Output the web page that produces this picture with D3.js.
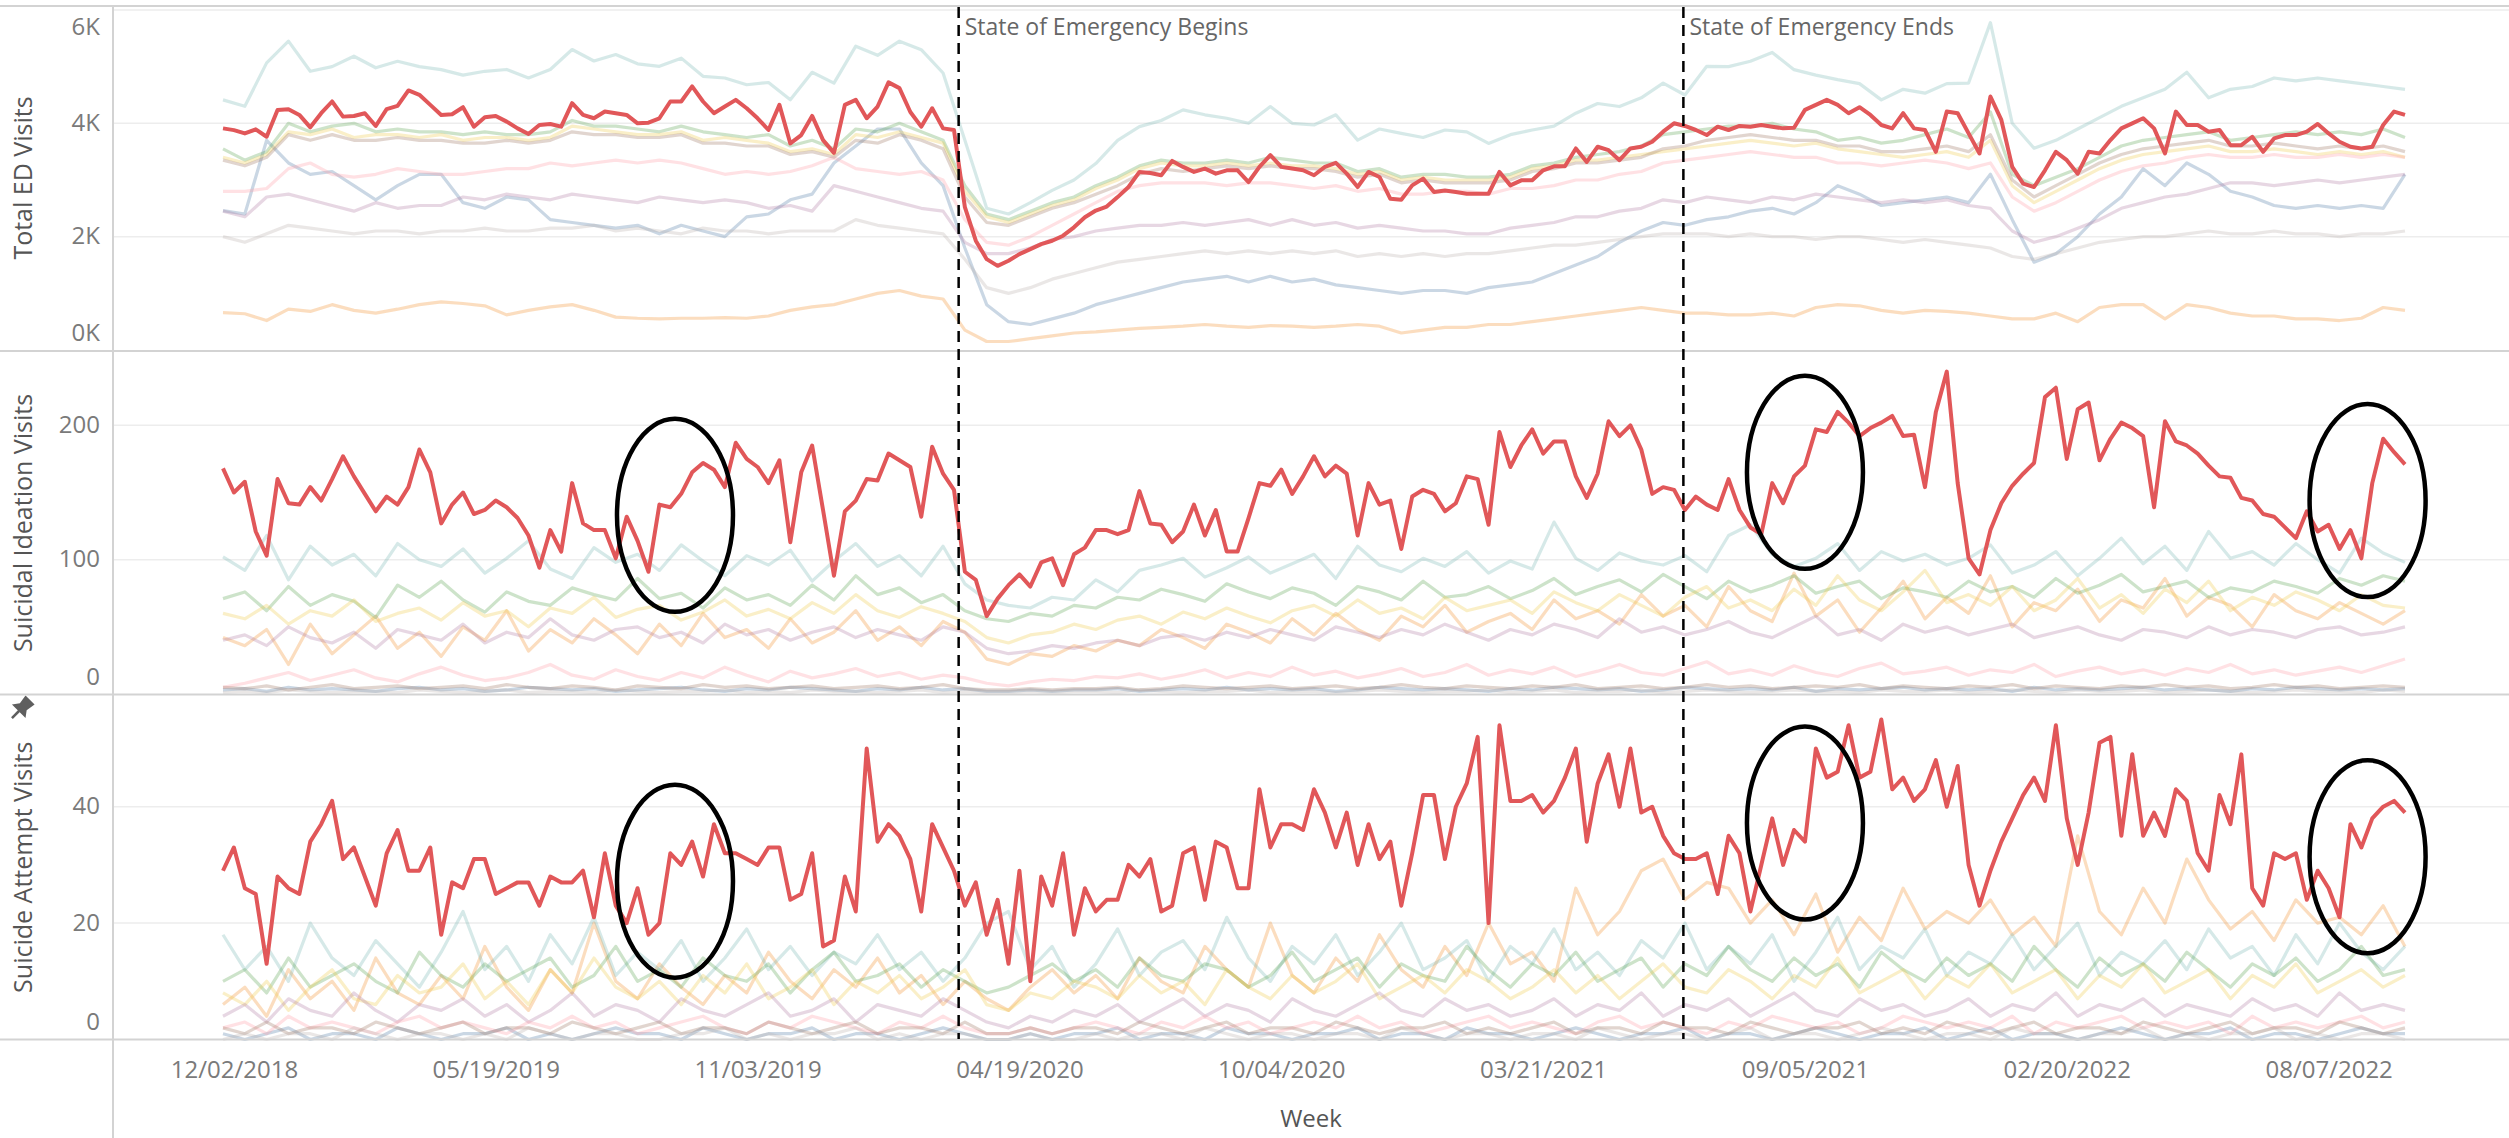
<!DOCTYPE html>
<html>
<head>
<meta charset="utf-8">
<script src="https://cdn.jsdelivr.net/npm/d3@7"></script>
<style>
  html, body { margin: 0; padding: 0; background: #fff; }
  svg { display: block; }
</style>
</head>
<body>
<svg id="chart" width="2509" height="1138"></svg>
<script>
// weekly data, first week and count
const firstWeek = "2018-11-25";
const weekCount = 201;

const tickLabels = ["12/02/2018", "05/19/2019", "11/03/2019", "04/19/2020", "10/04/2020",
  "03/21/2021", "09/05/2021", "02/20/2022", "08/07/2022"];

const emergencyDates = ["2020-03-11", "2021-06-19"];
const emergencyLabels = ["State of Emergency Begins", "State of Emergency Ends"];

// highlighted series (weekly)
const totalRed = [
  3911,3880,3822,3893,3763,4237,4249,4148,3929,4178, 4385,4118,4130,4178,3953,4249,4308,4580,4503,4325,
  4148,4160,4284,3941,4107,4130,4030,3911,3811,3970, 3988,3941,4355,4148,4089,4207,4178,4148,4000,4012,
  4089,4385,4385,4651,4385,4178,4296,4414,4266,4089, 3882,4325,3645,3793,4130,3704,3479,4325,4414,4089,
  4296,4722,4621,4200,3941,4266,3911,3882,2520,1928, 1603,1485,1574,1692,1781,1869,1928,2017,2165,2342,
  2461,2532,2698,2876,3142,3124,3083,3337,3231,3142, 3201,3112,3171,3171,2964,3231,3438,3231,3201,3171,
  3083,3231,3302,3112,2876,3142,3053,2668,2650,2905, 3024,2787,2816,2787,2757,2757,2757,3142,2905,2994,
  2994,3171,3242,3242,3556,3319,3586,3526,3349,3556, 3586,3674,3852,4000,3953,3882,3793,3941,3882,3953,
  3941,3970,3941,3911,3923,4237,4325,4414,4325,4178, 4284,4148,3970,3911,4178,3911,3882,3497,4207,4178,
  3822,3467,4473,4059,3231,2935,2876,3171,3497,3349, 3112,3497,3467,3704,3911,4000,4089,3911,3467,4207,
  3970,3970,3852,3882,3615,3615,3763,3497,3734,3793, 3793,3852,3988,3822,3674,3586,3556,3586,3970,4207,
  4148];
const ideationRed = [
  168,150,158,121,103,160,142,141,154,144, 160,177,162,149,136,147,141,154,182,165,
  127,141,150,134,137,144,139,131,118,94, 122,106,157,127,122,122,101,132,114,91,
  141,139,149,165,172,167,154,187,175,169, 157,174,113,165,185,137,88,136,144,160,
  159,179,174,169,132,184,164,152,91,85, 58,71,81,89,80,98,101,81,104,109,
  122,122,119,122,151,127,126,113,121,141, 118,137,106,106,131,157,155,167,149,162,
  177,162,170,164,118,157,141,144,108,147, 152,149,136,142,162,160,126,195,169,185,
  197,179,188,188,162,146,164,203,192,200, 182,149,154,152,137,147,141,137,160,137,
  124,119,157,142,162,170,197,195,210,202, 192,198,202,207,192,193,154,210,240,157,
  101,89,122,142,155,164,172,221,228,175, 212,217,174,190,202,198,192,139,203,188,
  185,179,170,162,161,146,144,134,132,124, 116,136,121,126,108,122,101,157,190,180,
  171];
const attemptRed = [
  29,33,26,25,13,28,26,25,34,37, 41,31,33,28,23,32,36,29,29,33,
  18,27,26,31,31,25,26,27,27,23, 28,27,27,29,21,32,23,20,26,18,
  20,32,30,34,28,37,32,32,31,30, 33,33,24,25,32,16,17,28,22,50,
  34,37,35,31,22,37,33,29,23,27, 18,24,13,29,10,28,23,32,18,26,
  22,24,24,30,28,31,22,23,32,33, 24,34,33,26,26,43,33,37,37,36,
  43,39,33,39,30,37,31,34,23,32, 42,42,31,40,44,52,20,54,41,41,
  42,39,41,45,50,34,44,49,40,50, 39,40,35,32,31,31,32,25,35,32,
  22,30,38,30,36,34,50,45,46,54, 45,46,55,43,45,41,43,48,40,47,
  30,23,29,34,38,42,45,41,54,38, 30,39,51,52,35,49,35,39,35,43,
  41,32,29,42,37,49,26,23,32,31, 32,24,29,26,21,37,33,38,40,41,
  39];

// other series, read every second week
const totalTeal = [
  4414,4300,5066,5450,4918,5000,5184,4980,5095,5000, 4947,4850,4918,4950,4800,4950,5302,5100,5214,5050,
  5006,5150,4829,4800,4680,4720,4414,4900,4710,5361, 5200,5450,5300,4888,3700,2500,2400,2600,2816,3000,
  3290,3700,3941,4050,4237,4150,4089,4000,4296,4000, 3970,4150,3704,3900,3822,3750,3882,3850,3645,3800,
  3882,3950,4178,4350,4296,4450,4710,4500,5006,5000, 5095,5250,4947,4850,4770,4700,4414,4600,4532,4700,
  4710,5776,4000,3560,3700,3900,4100,4300,4450,4600, 4900,4450,4600,4650,4800,4750,4800,4750,4700,4650,
  4600];
const totalGreen = [
  3550,3350,3500,4000,3850,3950,4000,3850,3900,3850, 3850,3800,3850,3800,3800,3850,4050,3950,3950,3900,
  3850,3950,3850,3800,3750,3800,3600,3700,3550,3900, 3850,4000,3850,3700,2900,2400,2300,2450,2600,2700,
  2900,3050,3250,3350,3300,3300,3350,3300,3400,3350, 3300,3300,3150,3200,3050,3100,3100,3050,3050,3100,
  3250,3300,3400,3450,3500,3600,3800,3850,3900,3950, 3950,4000,3900,3850,3700,3750,3650,3700,3800,3900,
  3750,4200,3100,2900,3050,3200,3400,3600,3700,3750, 3800,3850,3700,3750,3800,3850,3800,3850,3800,3900,
  3750];
const totalYellow = [
  3400,3300,3450,3850,3800,3900,3750,3800,3800,3750, 3800,3700,3750,3750,3700,3750,3950,3900,3850,3800,
  3800,3850,3700,3750,3700,3650,3500,3550,3450,3800, 3750,3850,3750,3650,2800,2350,2250,2400,2550,2650,
  2850,3000,3200,3300,3250,3250,3300,3250,3300,3250, 3250,3200,3100,3150,3000,3050,3000,3000,3000,3050,
  3200,3250,3350,3350,3400,3450,3500,3550,3600,3650, 3700,3650,3600,3650,3550,3500,3450,3400,3450,3500,
  3400,3700,2900,2600,2800,3000,3200,3350,3450,3500, 3550,3600,3500,3500,3550,3500,3450,3500,3450,3500,
  3400];
const totalBrown = [
  3350,3250,3400,3800,3700,3800,3700,3700,3750,3700, 3700,3650,3650,3700,3650,3700,3850,3800,3800,3750,
  3750,3800,3650,3650,3600,3600,3450,3500,3400,3700, 3650,3800,3700,3550,2700,2250,2200,2350,2500,2600,
  2750,2900,3100,3200,3150,3200,3250,3200,3250,3200, 3200,3150,3050,3100,2950,3000,2950,2950,2950,3000,
  3150,3200,3300,3300,3350,3400,3550,3600,3700,3750, 3800,3750,3700,3700,3600,3600,3500,3500,3550,3600,
  3500,3800,3000,2700,2900,3100,3300,3450,3550,3600, 3650,3700,3600,3600,3650,3600,3550,3600,3550,3600,
  3500];
const totalPink = [
  2800,2800,2850,3200,3300,3100,3050,3100,3200,3150, 3100,3100,3150,3200,3200,3300,3250,3300,3350,3300,
  3350,3300,3200,3100,3150,3100,3150,3250,3400,3200, 3150,3100,3150,3000,2300,1900,1850,2000,2200,2400,
  2600,2800,2900,2950,2950,2950,2900,2950,2950,2900, 2850,2900,2800,2850,2750,2750,2800,2800,2750,2850,
  2850,2900,3000,3000,3100,3150,3300,3350,3400,3450, 3500,3450,3400,3400,3300,3300,3250,3300,3350,3300,
  3200,3300,2700,2450,2600,2800,3000,3150,3250,3300, 3400,3450,3400,3400,3450,3400,3400,3450,3400,3450,
  3400];
const totalBlue = [
  2460,2400,3700,3300,3100,3150,2900,2650,2900,3100, 3100,2600,2500,2700,2650,2300,2250,2200,2150,2200,
  2050,2200,2100,2000,2350,2400,2650,2750,3300,3600, 3900,3900,3300,2900,1800,800,500,450,550,650,
  800,900,1000,1100,1200,1250,1300,1200,1300,1200, 1250,1150,1100,1050,1000,1050,1050,1000,1100,1150,
  1200,1350,1500,1650,1900,2100,2250,2200,2300,2350, 2450,2500,2400,2600,2900,2750,2550,2600,2650,2700,
  2600,3100,2300,1550,1700,2000,2400,2700,3200,2900, 3300,3100,2800,2700,2550,2500,2550,2500,2550,2500,
  3100];
const totalPurple = [
  2450,2350,2700,2750,2650,2550,2450,2600,2500,2550, 2550,2700,2650,2750,2700,2650,2750,2700,2650,2600,
  2700,2650,2600,2650,2600,2500,2550,2450,2900,2800, 2700,2600,2500,2450,1900,1700,1700,1800,1950,2000,
  2100,2150,2200,2200,2250,2200,2250,2300,2200,2300, 2200,2250,2150,2200,2150,2100,2100,2050,2050,2150,
  2200,2250,2350,2350,2450,2500,2650,2600,2700,2650, 2600,2700,2650,2750,2700,2650,2600,2650,2600,2650,
  2550,2500,2100,1900,2000,2150,2300,2500,2600,2700, 2750,2850,2950,2950,2900,2950,3000,2950,3000,3050,
  3100];
const totalGray = [
  2000,1900,2050,2200,2150,2100,2050,2100,2100,2050, 2100,2100,2150,2100,2100,2150,2150,2200,2100,2150,
  2100,2050,2150,2100,2100,2050,2100,2100,2100,2300, 2200,2150,2100,2050,1600,1100,1000,1100,1250,1350,
  1450,1550,1600,1650,1700,1750,1700,1750,1700,1750, 1700,1750,1650,1700,1650,1700,1650,1700,1700,1750,
  1800,1850,1850,1900,1950,2000,2050,2050,2050,2000, 2050,2000,2000,1950,2000,2000,1950,1900,1950,1900,
  1850,1800,1650,1600,1700,1800,1900,1950,2000,2000, 2050,2100,2050,2050,2100,2050,2050,2000,2050,2050,
  2100];
const totalOrange = [
  660,640,520,720,680,800,700,650,720,800, 850,820,780,620,700,760,800,700,580,560,
  550,560,560,570,560,600,700,760,800,900, 1000,1050,950,900,350,150,150,200,250,300,
  320,350,380,400,420,450,420,400,430,420, 400,420,450,420,300,350,400,400,450,450,
  500,550,600,650,700,750,700,650,650,620, 620,650,600,750,800,780,700,650,700,680,
  650,600,550,550,650,500,750,800,800,550, 800,750,650,600,600,550,550,520,560,750,
  700];

const ideationTeal = [
  102,92,118,85,110,96,104,88,112,100, 95,108,90,101,114,93,86,109,98,104,
  92,111,99,88,103,96,107,84,99,112, 95,103,88,110,82,70,66,64,72,70,
  85,76,92,96,101,87,94,102,90,97, 104,86,110,96,91,101,95,106,90,99,
  93,128,101,92,105,99,96,103,91,118, 126,104,95,101,112,92,106,99,104,96,
  101,111,90,96,106,88,101,116,97,110, 92,121,101,106,96,112,100,90,116,105,
  98];
const ideationGreen = [
  71,76,62,80,66,74,69,57,81,72, 84,70,61,76,69,66,79,74,70,86,
  71,75,64,79,70,74,66,81,70,88, 74,79,68,74,62,56,54,60,58,66,
  64,72,70,78,74,69,82,76,71,79, 75,66,80,76,70,84,72,74,80,71,
  77,86,74,80,85,76,89,80,71,84, 76,81,88,75,80,84,71,79,76,72,
  84,76,80,72,86,75,81,89,76,80, 84,72,79,76,84,80,75,86,81,88,
  84];
const ideationYellow = [
  60,56,66,52,62,58,70,54,60,64, 55,68,58,62,50,64,60,72,57,63,
  66,55,61,70,58,63,56,68,60,74, 62,57,65,60,54,42,38,44,46,52,
  48,55,58,52,61,56,64,58,53,62, 66,58,70,60,64,56,72,62,66,70,
  60,76,68,62,74,66,58,72,80,64, 70,62,78,66,88,70,62,76,92,68,
  74,66,80,62,70,86,64,74,60,78, 68,84,62,72,66,76,70,62,74,66,
  64];
const ideationOrange = [
  42,36,48,22,52,30,44,58,34,46, 28,50,40,62,32,48,38,56,44,30,
  52,36,60,42,48,34,56,38,46,62, 40,50,36,54,46,26,22,30,28,36,
  32,40,36,48,42,34,52,46,38,56, 44,60,48,40,58,50,66,46,54,60,
  48,70,56,62,52,74,58,66,50,80, 62,54,90,58,70,46,64,84,56,72,
  60,88,50,68,62,78,54,70,64,86, 58,72,66,50,74,62,56,68,60,52,
  62];
const ideationPurple = [
  40,44,36,50,42,38,46,34,48,44, 40,52,38,46,42,56,44,40,48,50,
  42,46,38,52,44,48,40,46,50,42, 48,44,40,50,46,34,30,32,36,34,
  38,40,36,42,44,40,46,42,48,44, 40,50,46,42,48,44,52,46,40,48,
  44,52,48,42,56,46,50,44,48,54, 46,42,50,58,44,48,40,52,46,50,
  44,48,52,42,46,50,44,40,48,46, 42,50,44,48,46,42,48,50,44,46,
  50];
const ideationPink = [
  5,8,12,16,10,14,18,12,9,15, 20,14,10,12,16,22,14,11,18,13,
  10,16,12,20,14,9,17,12,15,19, 13,16,11,14,12,8,6,9,11,10,
  13,12,15,11,14,18,12,16,13,20, 14,17,12,15,19,13,16,22,14,18,
  15,20,13,17,22,16,14,19,24,15, 18,14,21,16,13,19,23,15,17,20,
  14,18,16,22,13,17,20,15,18,14, 19,16,22,15,18,14,17,20,16,21,
  26];
const ideationBlue = [
  3,4,2,5,3,4,3,2,4,5, 3,4,2,3,5,4,3,4,2,3,
  4,5,3,2,4,3,5,4,3,2, 4,3,5,3,4,2,2,3,2,3,
  3,4,2,3,4,3,5,3,4,3, 4,2,3,5,4,3,4,3,2,4,
  3,5,4,3,4,2,3,5,4,3, 4,3,5,2,4,3,4,5,3,4,
  3,4,2,5,3,4,3,4,5,3, 4,3,2,4,3,5,4,3,4,3,
  4];
const ideationGray = [
  1,2,1,3,2,1,2,2,1,3, 2,1,2,3,1,2,2,1,3,2,
  1,2,2,3,1,2,1,3,2,2, 1,2,3,1,2,1,1,2,1,2,
  2,1,3,2,1,2,2,3,1,2, 2,1,2,3,2,1,2,2,3,1,
  2,3,1,2,2,3,1,2,3,2, 1,2,3,2,2,1,3,2,2,3,
  1,2,3,2,1,3,2,2,3,1, 2,3,2,1,2,3,2,2,1,3,
  2];
const ideationBrown = [
  5,4,6,3,5,7,4,5,6,4, 5,6,4,7,5,4,6,5,3,6,
  5,4,7,5,6,4,5,6,4,5, 6,4,5,7,4,3,3,4,3,4,
  4,5,3,4,6,5,4,5,6,4, 5,6,4,5,7,5,4,6,5,4,
  6,5,7,4,5,6,4,5,7,5, 6,4,5,6,5,7,4,6,5,4,
  6,5,7,4,6,5,4,6,5,7, 5,6,4,5,7,5,6,4,5,6,
  5];

const attemptTeal = [
  18,12,16,10,20,14,11,17,13,9, 15,22,12,16,10,18,13,21,11,15,
  12,17,10,14,19,12,16,11,15,13, 18,12,15,10,14,20,22,12,16,9,
  13,19,11,15,17,12,21,14,10,16, 13,18,11,15,20,12,14,17,10,16,
  13,19,12,15,11,17,14,20,12,16, 13,18,10,15,21,12,16,14,19,11,
  15,13,18,12,16,20,11,15,13,17, 12,19,14,16,11,18,13,20,15,12,
  16];
const attemptGreen = [
  10,12,8,14,9,11,13,10,8,15, 11,9,13,10,12,14,9,11,16,10,
  12,9,14,11,10,13,8,12,15,10, 11,13,9,12,10,8,9,11,13,10,
  12,9,14,11,10,13,12,9,11,15, 10,12,14,9,13,11,10,16,12,9,
  13,11,15,10,12,14,9,13,11,16, 12,10,14,11,13,9,15,12,10,14,
  11,13,10,16,12,9,14,11,13,10, 15,12,9,13,11,14,10,12,16,11,
  12];
const attemptYellow = [
  8,6,10,5,9,12,7,6,11,8, 9,13,7,10,6,12,8,14,9,7,
  10,6,11,8,13,7,9,12,6,10, 8,11,7,9,12,6,5,8,7,10,
  9,7,11,8,10,6,12,9,7,11, 8,10,13,7,9,11,8,12,10,7,
  9,12,8,11,7,10,13,9,8,12, 10,7,11,9,14,8,10,12,7,11,
  9,13,8,10,12,7,11,9,13,8, 10,12,7,11,9,13,8,10,12,9,
  11];
const attemptOrange = [
  6,9,4,12,7,10,5,14,8,6, 11,7,16,9,5,12,8,20,10,7,
  13,9,6,11,8,15,10,7,12,9, 14,8,11,6,10,7,5,9,12,8,
  11,7,14,10,8,16,12,9,20,11, 8,14,10,18,12,9,16,11,20,13,
  15,10,26,18,22,29,31,24,27,26, 20,24,18,25,15,21,17,26,19,22,
  20,24,18,21,16,35,22,18,26,20, 31,24,19,22,17,24,20,21,18,23,
  16];
const attemptPurple = [
  4,6,3,7,5,4,8,5,3,6, 5,7,4,6,3,5,8,4,6,5,
  3,7,5,4,6,8,4,5,7,3, 6,5,4,7,5,3,2,4,3,5,
  4,6,3,5,7,4,6,5,3,7, 5,4,6,8,5,4,7,5,6,4,
  5,7,4,6,5,8,4,6,5,7, 4,6,8,5,4,7,5,6,4,5,
  7,4,6,5,8,4,6,5,7,4, 6,5,4,7,5,6,4,8,5,6,
  5];
const attemptPink = [
  2,3,1,4,2,3,2,1,3,4, 2,3,2,1,3,2,4,2,3,1,
  2,3,4,2,1,3,2,4,3,2, 1,3,2,4,2,1,1,2,1,2,
  3,2,1,3,2,4,2,3,1,2, 3,2,4,2,3,1,2,3,4,2,
  3,2,1,3,4,2,3,2,1,3, 2,4,3,2,3,1,2,4,3,2,
  3,2,4,1,3,2,3,4,2,3, 2,3,1,4,2,3,2,3,4,2,
  3];
const attemptBlue = [
  1,0,1,2,0,1,1,0,2,1, 0,1,1,2,0,1,0,1,2,1,
  1,0,2,1,0,1,1,2,0,1, 1,0,1,2,1,0,0,1,0,1,
  1,2,0,1,1,0,2,1,1,0, 1,1,2,0,1,1,0,2,1,1,
  0,1,2,1,0,1,1,2,0,1, 1,0,1,2,1,0,1,1,2,0,
  1,2,0,1,1,0,1,2,1,0, 1,1,2,0,1,1,0,1,2,1,
  1];
const attemptGray = [
  0,1,0,1,1,0,2,1,0,1, 1,0,1,0,2,1,0,1,1,0,
  0,1,1,2,0,1,0,1,1,2, 0,1,0,1,1,0,0,1,0,0,
  1,0,1,1,0,2,1,0,1,1, 0,1,1,0,2,1,0,1,1,0,
  1,1,0,2,1,0,1,1,0,1, 2,0,1,1,0,1,2,1,0,1,
  1,0,2,1,1,0,1,1,2,0, 1,0,1,1,2,0,1,0,1,1,
  0];
const attemptBrown = [
  2,1,3,1,2,2,1,3,2,1, 2,3,1,2,2,1,3,2,1,2,
  3,1,2,2,1,3,2,1,2,3, 1,2,2,1,3,1,1,2,1,2,
  2,1,3,2,1,2,3,1,2,2, 1,3,2,1,2,2,3,1,2,1,
  2,3,1,2,2,1,3,2,2,1, 3,2,1,2,2,3,1,2,1,3,
  2,1,2,3,1,2,2,1,3,2, 1,2,3,1,2,2,1,3,2,1,
  2];

// circled spots: [date, value]
const ideationCircles = [["2019-09-11", 133], ["2021-09-05", 165], ["2022-09-01", 144]];
const attemptCircles = [["2019-09-11", 27.2], ["2021-09-05", 37.2], ["2022-09-01", 31.4]];

const palette = {
  red: "#e15759", blue: "#4e79a7", orange: "#f28e2b", teal: "#76b7b2", green: "#59a14f",
  yellow: "#edc948", purple: "#b07aa1", pink: "#ff9da7", brown: "#9c755f", gray: "#bab0ac"
};

const font = '"Open Sans", "DejaVu Sans", sans-serif';
const W = 2509, H = 1138;
const left = 113;

const parseIso = d3.utcParse("%Y-%m-%d");
const parseTick = d3.utcParse("%m/%d/%Y");
const weeks = d3.range(weekCount).map(i => d3.utcWeek.offset(parseIso(firstWeek), i));
const biWeeks = weeks.filter((d, i) => i % 2 === 0);

const x = d3.scaleUtc()
  .domain([weeks[0], weeks[weeks.length - 1]])
  .range([223, 2405]);

const panels = [
  {
    title: "Total ED Visits", top: 6, bottom: 350, yMax: 6070,
    ticks: [0, 2000, 4000, 6000], fmt: d => (d / 1000) + "K",
    main: totalRed,
    others: [["blue", totalBlue], ["orange", totalOrange], ["teal", totalTeal], ["green", totalGreen],
      ["yellow", totalYellow], ["purple", totalPurple], ["pink", totalPink], ["brown", totalBrown], ["gray", totalGray]],
    circles: []
  },
  {
    title: "Suicidal Ideation Visits", top: 352, bottom: 694, yMax: 254.6,
    ticks: [0, 100, 200], fmt: d3.format("d"),
    main: ideationRed,
    others: [["blue", ideationBlue], ["orange", ideationOrange], ["teal", ideationTeal], ["green", ideationGreen],
      ["yellow", ideationYellow], ["purple", ideationPurple], ["pink", ideationPink], ["brown", ideationBrown], ["gray", ideationGray]],
    circles: ideationCircles
  },
  {
    title: "Suicide Attempt Visits", top: 695, bottom: 1039.5, yMax: 59.2,
    ticks: [0, 20, 40], fmt: d3.format("d"),
    main: attemptRed,
    others: [["blue", attemptBlue], ["orange", attemptOrange], ["teal", attemptTeal], ["green", attemptGreen],
      ["yellow", attemptYellow], ["purple", attemptPurple], ["pink", attemptPink], ["brown", attemptBrown], ["gray", attemptGray]],
    circles: attemptCircles,
    pinned: true
  }
];

const svg = d3.select("#chart").attr("font-family", font);
svg.append("rect").attr("width", W).attr("height", H).attr("fill", "#fff");

const gridLayer = svg.append("g");
const markLayer = svg.append("g");
const frameLayer = svg.append("g");
const annoLayer = svg.append("g");

panels.forEach(p => {
  const y = d3.scaleLinear().domain([0, p.yMax]).range([p.bottom, p.top]);

  // gridlines
  gridLayer.selectAll(null)
    .data(p.ticks.filter(t => t > 0))
    .join("line")
    .attr("x1", left).attr("x2", W)
    .attr("y1", d => y(d)).attr("y2", d => y(d))
    .attr("stroke", "#ededed").attr("stroke-width", 1.5);

  // y axis labels
  const ax = frameLayer.append("g")
    .attr("transform", `translate(${left},0)`)
    .call(d3.axisLeft(y).tickValues(p.ticks).tickFormat(p.fmt).tickSize(0).tickPadding(13));
  ax.select(".domain").remove();
  ax.attr("font-family", font).attr("font-size", 24);
  ax.selectAll(".tick")
    .attr("transform", d => `translate(0,${Math.max(p.top + 21, Math.min(p.bottom - 17, y(d)))})`);
  ax.selectAll("text").attr("fill", "#7a7a7a");

  // y title
  const cy = (p.top + p.bottom) / 2;
  frameLayer.append("text")
    .attr("transform", `translate(32,${cy}) rotate(-90)`)
    .attr("text-anchor", "middle")
    .attr("font-size", 25)
    .attr("fill", "#555")
    .text(p.title);

  if (p.pinned) {
    frameLayer.append("path")
      .attr("transform", `translate(21,${p.top + 14}) rotate(45) scale(1.6)`)
      .attr("d", "M-4,-8 H4 L3,-2 L6,2 H-6 L-3,-2 Z M-0.8,2 H0.8 V8 H-0.8 Z")
      .attr("fill", "#5f5f5f");
  }

  // other series, faded
  const bg = d3.line().x(d => x(d[0])).y(d => y(d[1]));
  markLayer.append("g")
    .selectAll("path")
    .data(p.others)
    .join("path")
    .attr("d", d => bg(biWeeks.map((w, i) => [w, d[1][i]])))
    .attr("fill", "none")
    .attr("stroke", d => palette[d[0]])
    .attr("stroke-opacity", 0.3)
    .attr("stroke-width", 3.2)
    .attr("stroke-linejoin", "round");

  // highlighted series
  markLayer.append("path")
    .attr("d", bg(weeks.map((w, i) => [w, p.main[i]])))
    .attr("fill", "none")
    .attr("stroke", palette.red)
    .attr("stroke-width", 4)
    .attr("stroke-linejoin", "round");

  // circled spots
  annoLayer.selectAll(null)
    .data(p.circles)
    .join("ellipse")
    .attr("cx", d => x(parseIso(d[0])))
    .attr("cy", d => y(d[1]))
    .attr("rx", 58).attr("ry", 96.5)
    .attr("fill", "none")
    .attr("stroke", "#000")
    .attr("stroke-width", 4.5);
});

// pane borders
frameLayer.selectAll(null)
  .data([6, 351, 694.5, 1039.5])
  .join("line")
  .attr("x1", 0).attr("x2", W)
  .attr("y1", d => d).attr("y2", d => d)
  .attr("stroke", "#d3d3d3").attr("stroke-width", 2);
frameLayer.append("line")
  .attr("x1", left).attr("x2", left)
  .attr("y1", 6).attr("y2", H)
  .attr("stroke", "#d3d3d3").attr("stroke-width", 2);

// x axis
const xa = frameLayer.append("g")
  .attr("transform", "translate(0,1039.5)")
  .call(d3.axisBottom(x).tickValues(tickLabels.map(parseTick))
    .tickFormat(d3.utcFormat("%m/%d/%Y")).tickSize(0).tickPadding(21));
xa.select(".domain").remove();
xa.attr("font-family", font).attr("font-size", 24);
xa.selectAll("text").attr("fill", "#7a7a7a");

frameLayer.append("text")
  .attr("x", (left + W) / 2).attr("y", 1127)
  .attr("text-anchor", "middle")
  .attr("font-size", 24)
  .attr("fill", "#555")
  .text("Week");

// emergency reference lines
emergencyDates.forEach((d, i) => {
  const ex = x(parseIso(d));
  annoLayer.append("line")
    .attr("x1", ex).attr("x2", ex)
    .attr("y1", 7).attr("y2", 1039)
    .attr("stroke", "#000")
    .attr("stroke-width", 2.5)
    .attr("stroke-dasharray", "11,7");
  annoLayer.append("text")
    .attr("x", ex + 6).attr("y", 35)
    .attr("font-size", 23)
    .attr("fill", "#666")
    .text(emergencyLabels[i]);
});
</script>
</body>
</html>
